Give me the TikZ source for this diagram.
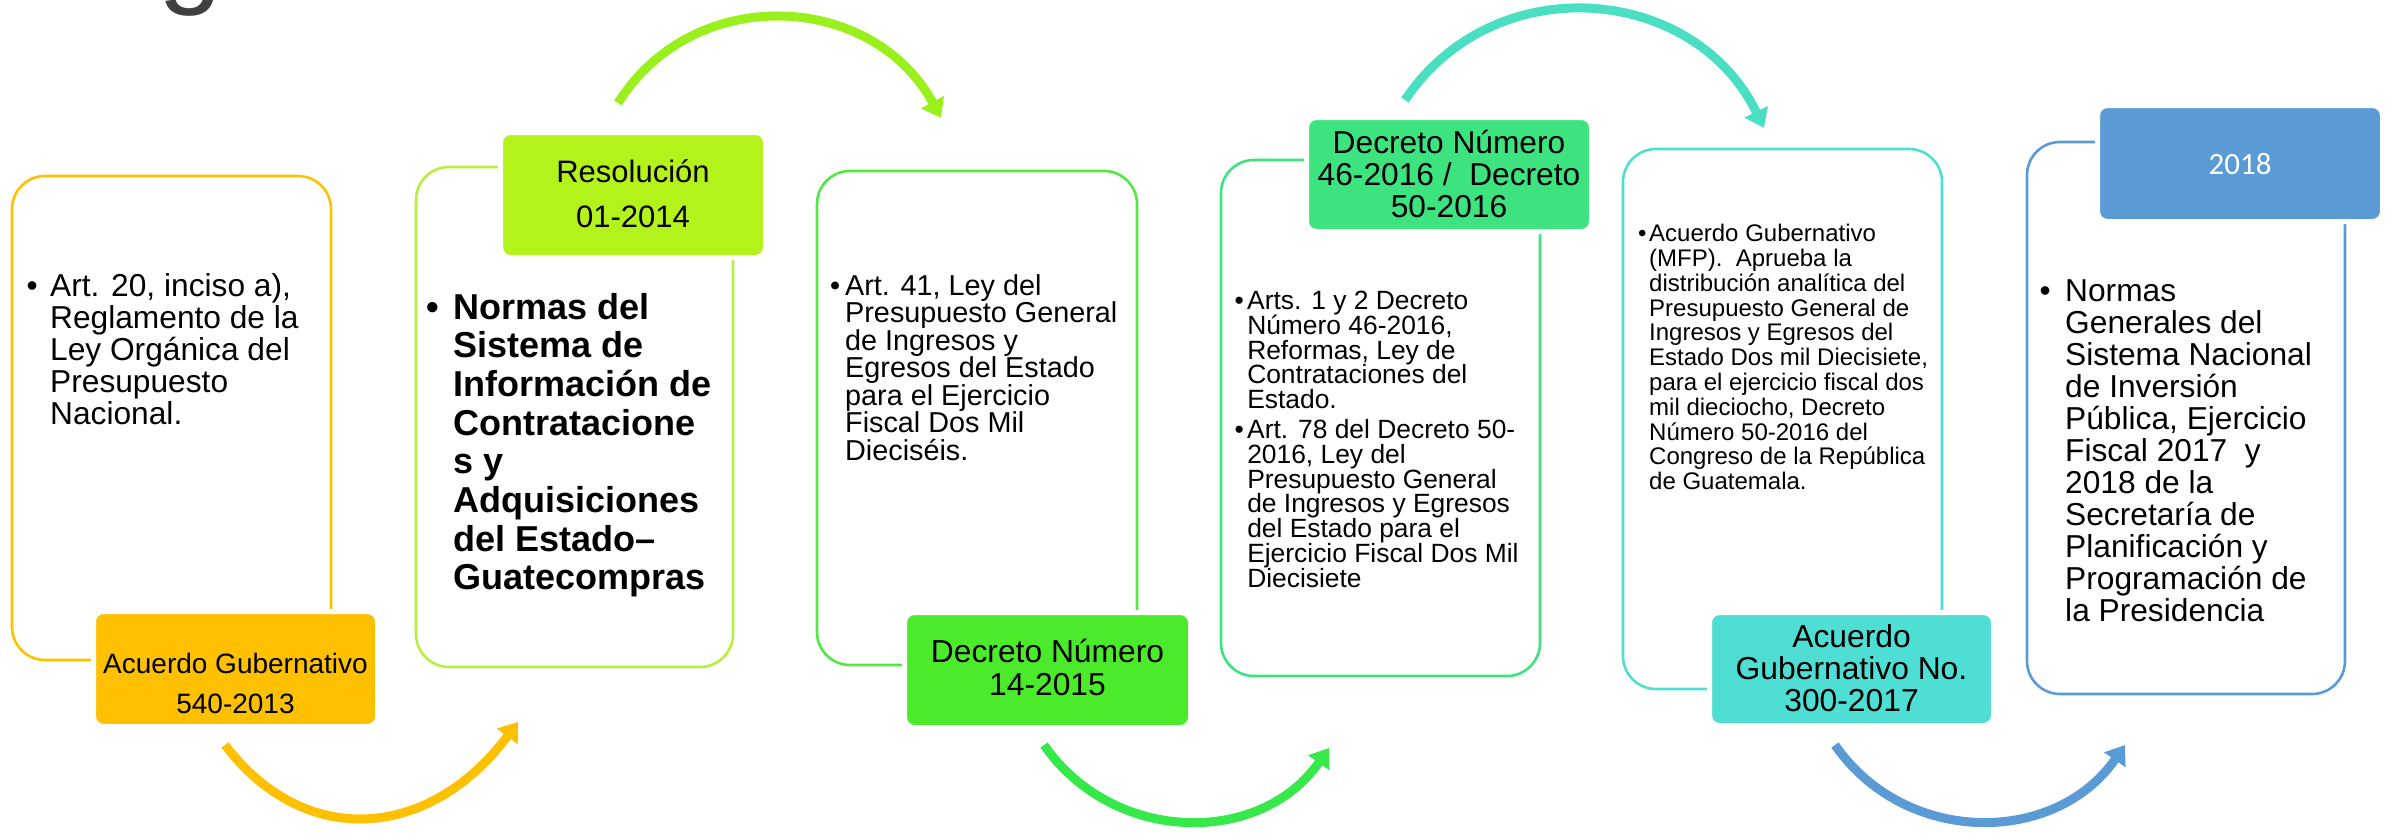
\documentclass[tikz,border=0pt]{standalone}
\usepackage{fontspec}
\setmainfont{Liberation Sans}
\newfontfamily\calibri{Carlito}
\usetikzlibrary{arrows.meta}
\definecolor{cA}{HTML}{FFC000}
\definecolor{cB}{HTML}{B3F21A}
\definecolor{cBline}{HTML}{B5F03C}
\definecolor{cBarc}{HTML}{99F01C}
\definecolor{cC}{HTML}{4BEB2B}
\definecolor{cCline}{HTML}{52E843}
\definecolor{cCarc}{HTML}{36E84A}
\definecolor{cD}{HTML}{3DE37F}
\definecolor{cDarc}{HTML}{4ADFC3}
\definecolor{cE}{HTML}{4EDED3}
\definecolor{cF}{HTML}{5B9BD5}
\definecolor{ttlgray}{HTML}{404040}
\newcommand{\blist}[2]{\vtop{\def\\{\cr&}\def\nb{\cr\noalign{\vskip5pt}\textbullet&}\lineskiplimit=-100pt\halign{##\hskip#1pt&##\hfil\cr\textbullet&#2\crcr}}}
\newcommand{\clist}[1]{\vtop{\def\\{\cr}\lineskiplimit=-100pt\halign{\hfil##\hfil\cr#1\crcr}}}
\begin{document}
\begin{tikzpicture}[x=1pt, y=-1pt,
  panel/.style={draw, line width=2.6pt, rounded corners=33pt, inner sep=0pt},
  badge/.style={draw=white, line width=5pt, rounded corners=10pt, inner sep=0pt},
  txt/.style={inner sep=0pt, anchor=base west},
  tagtxt/.style={inner sep=0pt, anchor=base},
  curvearrow/.style={line width=9pt, -{Triangle[width=25pt,length=18pt]}}]
\useasboundingbox (0,0) rectangle (2390,835);
\node[anchor=base west, inner sep=0pt, text=ttlgray, font=\fontsize{115}{115}\selectfont] (ttl) at (158,-7) {g};

\node[panel, draw=cA, minimum width=319pt, minimum height=484pt] (o1) at (171.5,418) {};
\node[panel, draw=cBline, minimum width=317pt, minimum height=500pt] (o2) at (574.5,417) {};
\node[panel, draw=cCline, minimum width=320pt, minimum height=494pt] (o3) at (977,418) {};
\node[panel, draw=cD, minimum width=319pt, minimum height=516pt] (o4) at (1380.5,418) {};
\node[panel, draw=cE, minimum width=319pt, minimum height=540pt] (o5) at (1782.5,419) {};
\node[panel, draw=cF, minimum width=318pt, minimum height=552pt] (o6) at (2186,418) {};

\node[badge, fill=cA, minimum width=284pt, minimum height=115pt] (l1) at (235.5,669) {};
\node[badge, fill=cB, minimum width=265pt, minimum height=125pt] (l2) at (633,195) {};
\node[badge, fill=cC, minimum width=286pt, minimum height=115pt] (l3) at (1047.5,670) {};
\node[badge, fill=cD, minimum width=285pt, minimum height=114pt] (l4) at (1449,174.5) {};
\node[badge, fill=cE, minimum width=284pt, minimum height=113pt] (l5) at (1851.5,669) {};
\node[badge, fill=cF, minimum width=285pt, minimum height=116pt] (l6) at (2240,163.5) {};

\node[tagtxt, font=\fontsize{28}{40}\selectfont] (t1) at (235.5,673) {\clist{Acuerdo Gubernativo\\540-2013}};
\node[tagtxt, font=\fontsize{31}{45}\selectfont] (t2) at (633,182) {\clist{Resolución\\01-2014}};
\node[tagtxt, font=\fontsize{31.8}{33}\selectfont] (t3) at (1047.5,662) {\clist{Decreto Número\\14-2015}};
\node[tagtxt, font=\fontsize{31.7}{32}\selectfont] (t4) at (1449,153) {\clist{Decreto Número\\46-2016 /\ \ Decreto\\50-2016}};
\node[tagtxt, font=\fontsize{31.8}{32}\selectfont] (t5) at (1851.5,647) {\clist{Acuerdo\\Gubernativo No.\\300-2017}};
\node[tagtxt, text=white, font=\calibri\fontsize{31}{36}\selectfont] (t6) at (2240,174) {2018};

\node[txt, font=\fontsize{31.7}{32}\selectfont] (b1) at (26.5,296) {\blist{12.4}{Art. 20, inciso a),\\Reglamento de la\\Ley Orgánica del\\Presupuesto\\Nacional.}};
\node[txt, font=\bfseries\fontsize{36}{38.7}\selectfont] (b2) at (426.7,319) {\blist{13.7}{Normas del\\Sistema de\\Información de\\Contratacione\\s y\\Adquisiciones\\del Estado–\\Guatecompras}};
\node[txt, font=\fontsize{28.8}{27.5}\selectfont] (b3) at (830,295) {\blist{4.9}{Art. 41, Ley del\\Presupuesto General\\de Ingresos y\\Egresos del Estado\\para el Ejercicio\\Fiscal Dos Mil\\Dieciséis.}};
\node[txt, font=\fontsize{26.4}{24.8}\selectfont] (b4) at (1234.4,309.5) {\blist{3.4}{Arts. 1 y 2 Decreto\\Número 46-2016,\\Reformas, Ley de\\Contrataciones del\\Estado.\nb Art. 78 del Decreto 50-\\2016, Ley del\\Presupuesto General\\de Ingresos y Egresos\\del Estado para el\\Ejercicio Fiscal Dos Mil\\Diecisiete}};
\node[txt, font=\fontsize{24}{24.8}\selectfont] (b5) at (1637.8,241.6) {\blist{2.8}{Acuerdo Gubernativo\\(MFP).\ \ Aprueba la\\distribución analítica del\\Presupuesto General de\\Ingresos y Egresos del\\Estado Dos mil Diecisiete,\\para el ejercicio fiscal dos\\mil dieciocho, Decreto\\Número 50-2016 del\\Congreso de la República\\de Guatemala.}};
\node[txt, font=\fontsize{31.7}{32}\selectfont] (b6) at (2039.5,301) {\blist{14.4}{Normas\\Generales del\\Sistema Nacional\\de Inversión\\Pública, Ejercicio\\Fiscal 2017\ \ y\\2018 de la\\Secretaría de\\Planificación y\\Programación de\\la Presidencia}};

\coordinate (s1) at (225,745);
\coordinate (e1) at (518,722);
\coordinate (s2) at (618,103);
\coordinate (e2) at (941,118);
\coordinate (s3) at (1044,745);
\coordinate (e3) at (1329,748);
\coordinate (s4) at (1405,100);
\coordinate (e4) at (1764,128);
\coordinate (s5) at (1835,745);
\coordinate (e5) at (2125,745);
\draw[curvearrow, cA] (s1) .. controls (305,850) and (430,840) .. (e1);
\draw[curvearrow, cBarc] (s2) .. controls (694,-18) and (873,-8) .. (e2);
\draw[curvearrow, cCarc] (s3) .. controls (1113,844) and (1260,847) .. (e3);
\draw[curvearrow, cDarc] (s4) .. controls (1494,-33) and (1694,-16) .. (e4);
\draw[curvearrow, cF] (s5) .. controls (1905,846) and (2055,846) .. (e5);
\end{tikzpicture}
\end{document}
